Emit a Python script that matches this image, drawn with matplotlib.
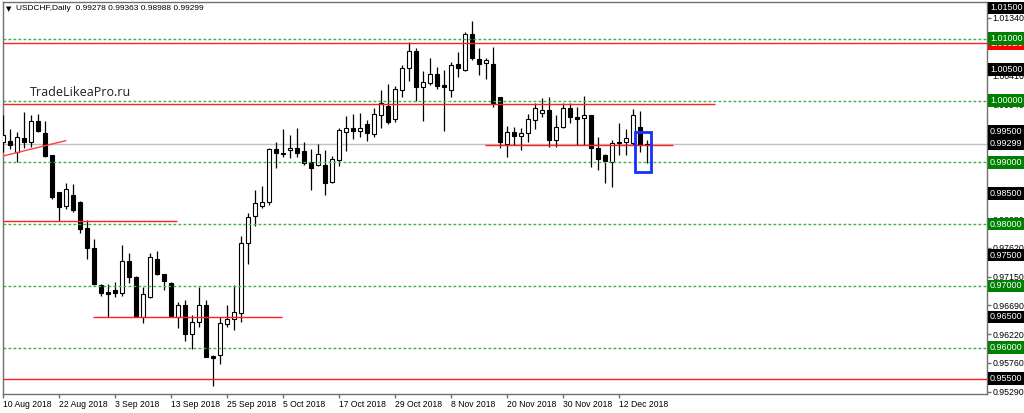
import numpy as np
import matplotlib
matplotlib.use("Agg")
import matplotlib.pyplot as plt
import matplotlib.transforms as mtransforms
from matplotlib.patches import Rectangle

plt.rcParams['font.family'] = ['Liberation Sans', 'DejaVu Sans']

# daily USDCHF candles, 10 Aug 2018 .. 18 Dec 2018
opens = [0.99324, 0.99340, 0.99171, 0.99393, 0.99328, 0.99663, 0.99479, 0.99113, 0.98524, 0.98293,
         0.98471, 0.98362, 0.97932, 0.97618, 0.97015, 0.96906, 0.96934, 0.96890, 0.97398, 0.97139,
         0.96492, 0.96825, 0.97430, 0.97193, 0.97042, 0.96502, 0.96691, 0.96217, 0.96421, 0.96691,
         0.95866, 0.95882, 0.96379, 0.96460, 0.96566, 0.97689, 0.98131, 0.98298, 0.98362, 0.99210,
         0.99155, 0.99199, 0.99226, 0.99178, 0.99010, 0.98956, 0.98956, 0.98686, 0.99037, 0.99495,
         0.99550, 0.99506, 0.99625, 0.99453, 0.99765, 0.99916, 0.99701, 1.00170, 1.00521, 1.00801,
         1.00223, 1.00278, 1.00424, 1.00251, 1.00170, 1.00586, 1.00493, 1.01076, 1.00671, 1.00611,
         1.00590, 1.00052, 0.99296, 0.99490, 0.99430, 0.99479, 0.99684, 0.99793, 0.99846, 0.99361,
         0.99566, 0.99874, 0.99728, 0.99712, 0.99765, 0.99226, 0.99118, 0.99010, 0.99307, 0.99324,
         0.99307, 0.99566, 0.99278]
highs = [0.99765, 0.99534, 0.99495, 0.99819, 0.99765, 0.99781, 0.99673, 0.99118, 0.98524, 0.98660,
         0.98649, 0.98379, 0.98066, 0.97754, 0.97026, 0.97026, 0.97068, 0.97662, 0.97528, 0.97160,
         0.96987, 0.97528, 0.97570, 0.97193, 0.97063, 0.96745, 0.96772, 0.96529, 0.96987, 0.96772,
         0.95882, 0.96492, 0.96691, 0.97015, 0.97807, 0.98184, 0.98552, 0.98617, 0.99236, 0.99333,
         0.99534, 0.99442, 0.99550, 0.99333, 0.99210, 0.99296, 0.99199, 0.99102, 0.99550, 0.99754,
         0.99777, 0.99793, 0.99684, 0.99883, 1.00170, 1.00262, 1.00239, 1.00574, 1.00951, 1.00854,
         1.00477, 1.00683, 1.00547, 1.00493, 1.00628, 1.00785, 1.01113, 1.01286, 1.00845, 1.00683,
         1.00870, 1.00061, 0.99587, 0.99576, 0.99550, 0.99781, 0.99955, 1.00035, 1.00052, 0.99765,
         0.99955, 0.99955, 0.99900, 1.00073, 0.99765, 0.99414, 0.99134, 0.99361, 0.99641, 0.99534,
         0.99858, 0.99835, 0.99363]
lows = [0.99172, 0.99210, 0.99000, 0.99236, 0.99252, 0.99495, 0.99091, 0.98406, 0.98055, 0.98249,
        0.98201, 0.97861, 0.97440, 0.97010, 0.96837, 0.96492, 0.96816, 0.96837, 0.97052, 0.96492,
        0.96395, 0.96799, 0.97176, 0.96934, 0.96502, 0.96324, 0.96113, 0.95974, 0.96330, 0.95855,
        0.95385, 0.95736, 0.96330, 0.96287, 0.96421, 0.97354, 0.97969, 0.98256, 0.98309, 0.98903,
        0.99091, 0.99065, 0.99091, 0.98956, 0.98552, 0.98940, 0.98471, 0.98670, 0.98945, 0.99183,
        0.99377, 0.99414, 0.99345, 0.99414, 0.99550, 0.99615, 0.99647, 1.00061, 1.00315, 0.99992,
        0.99668, 1.00251, 1.00186, 0.99506, 1.00061, 1.00385, 1.00482, 1.00655, 1.00413, 1.00343,
        0.99900, 0.99226, 0.99081, 0.99280, 0.99199, 0.99333, 0.99534, 0.99738, 0.99243, 0.99243,
        0.99560, 0.99631, 0.99280, 0.99280, 0.98919, 0.98875, 0.98660, 0.98605, 0.99118, 0.99118,
        0.99280, 0.99171, 0.98988]
closes = [0.99442, 0.99285, 0.99404, 0.99328, 0.99663, 0.99511, 0.99102, 0.98443, 0.98282, 0.98573,
          0.98228, 0.97921, 0.97608, 0.97026, 0.96890, 0.96864, 0.96880, 0.97398, 0.97139, 0.96502,
          0.96869, 0.97473, 0.97188, 0.97084, 0.96518, 0.96691, 0.96222, 0.96421, 0.96691, 0.95855,
          0.95829, 0.96395, 0.96465, 0.96573, 0.97699, 0.98110, 0.98346, 0.98362, 0.99220, 0.99146,
          0.99139, 0.99226, 0.99146, 0.98984, 0.98903, 0.99129, 0.98670, 0.99048, 0.99523, 0.99550,
          0.99511, 0.99550, 0.99469, 0.99777, 0.99955, 0.99657, 1.00186, 1.00531, 1.00801, 1.00223,
          1.00294, 1.00424, 1.00239, 1.00223, 1.00574, 1.00531, 1.01076, 1.00683, 1.00586, 1.00655,
          0.99955, 0.99333, 0.99490, 0.99430, 0.99469, 0.99696, 0.99874, 0.99846, 0.99361, 0.99566,
          0.99874, 0.99738, 0.99705, 0.99765, 0.99236, 0.99048, 0.99026, 0.99307, 0.99333, 0.99388,
          0.99765, 0.99278, 0.99299]

date_tick_idx = [0, 8, 16, 24, 32, 40, 48, 56, 64, 72, 80, 88]
date_tick_labels = ["10 Aug 2018", "22 Aug 2018", "3 Sep 2018", "13 Sep 2018", "25 Sep 2018",
                    "5 Oct 2018", "17 Oct 2018", "29 Oct 2018", "8 Nov 2018", "20 Nov 2018",
                    "30 Nov 2018", "12 Dec 2018"]

price_ticks = [0.95290, 0.95760, 0.96220, 0.96690, 0.97150, 0.97620, 0.98080, 0.98550,
               0.99010, 0.99480, 0.99940, 1.00410, 1.00870, 1.01340]
green_levels = [1.01, 1.00, 0.99, 0.98, 0.97, 0.96]
black_labels = [1.015, 1.005, 0.995, 0.985, 0.975, 0.965, 0.955]
last_price = 0.99299

# red horizontal levels: (price, start index, end index)
red_levels = [(1.00926, 0, 140.6), (0.99943, 0, 101.7), (0.98055, 0, 24.9),
              (0.96492, 12.9, 39.9), (0.99285, 68.9, 95.7), (0.955, 0, 140.6)]
trend_x = [0, 8.96]
trend_y = [0.99102, 0.99350]

fig = plt.figure(figsize=(10.24, 4.13), dpi=100)
ax = fig.add_axes([3 / 1024, 19 / 413, 984 / 1024, 392 / 413])
ax.set_xlim(0, 984 / 7)
ax.set_ylim(0.95251, 1.01594)

x = np.arange(len(opens))
o = np.array(opens)
c = np.array(closes)
ax.vlines(x, lows, highs, color='black', linewidth=0.9, zorder=3)
body_lo = np.minimum(o, c)
body_h = np.maximum(np.abs(c - o), 0.00002)
face = ['white' if cc >= oo else 'black' for oo, cc in zip(o, c)]
ax.bar(x, body_h, bottom=body_lo, width=0.64, color=face, edgecolor='black',
       linewidth=0.8, zorder=4)

# levels
ax.axhline(last_price, color='#c0c0c0', linewidth=1, zorder=2)
for g in green_levels:
    ax.axhline(g, color='#3cb043', linewidth=1, linestyle=(0, (2, 1.6)), zorder=5)
for p, x0, x1 in red_levels:
    ax.hlines(p, x0, x1, color='#ff2020', linewidth=1, zorder=5)
ax.plot(trend_x, trend_y, color='#ff4040', linewidth=1, zorder=5)

ax.add_patch(Rectangle((90.3, 0.98843), 2.27, 0.99485 - 0.98843, fill=False,
                       edgecolor='#1530ff', linewidth=2, zorder=6))

for s in ax.spines.values():
    s.set_color('#707070')
    s.set_linewidth(1)

ax.yaxis.tick_right()
ax.set_yticks(price_ticks)
ax.set_yticklabels(['%.5f' % t for t in price_ticks])
ax.tick_params(axis='y', length=3, width=1, color='#707070', labelsize=6.3, pad=1)
ax.set_xticks(date_tick_idx)
ax.set_xticklabels(date_tick_labels, ha='left')
ax.tick_params(axis='x', length=3, width=1, color='#707070', labelsize=6.2, pad=1)

trans = mtransforms.blended_transform_factory(ax.transAxes, ax.transData)
box_x = 1.003
box = dict(boxstyle='square,pad=0.2', ec='none')
ax.text(box_x, 1.00926, '1.00926', transform=trans, fontsize=6.5, color='white', va='center',
        ha='left', clip_on=False, zorder=9, bbox=dict(box, fc='#ff0000'))
for p in black_labels + [last_price]:
    ax.text(box_x, p, '%.5f' % p, transform=trans, fontsize=6.5, color='white', va='center',
            ha='left', clip_on=False, zorder=10, bbox=dict(box, fc='black'))
for p in green_levels:
    ax.text(box_x, p, '%.5f' % p, transform=trans, fontsize=6.5, color='white', va='center',
            ha='left', clip_on=False, zorder=11, bbox=dict(box, fc='#008000'))

fig.text(6 / 1024, 1 - 9 / 413, '\u25bc', fontsize=5, va='center', ha='left',
         family=['DejaVu Sans'])
fig.text(16 / 1024, 1 - 9 / 413, 'USDCHF,Daily  0.99278 0.99363 0.98988 0.99299',
         fontsize=6, va='center', ha='left')
fig.text(30 / 1024, 1 - 92 / 413, 'TradeLikeaPro.ru', fontsize=9, va='center', ha='left',
         color='#202020', family=['Open Sans', 'DejaVu Sans'])

fig.savefig('out.png', dpi=100)
